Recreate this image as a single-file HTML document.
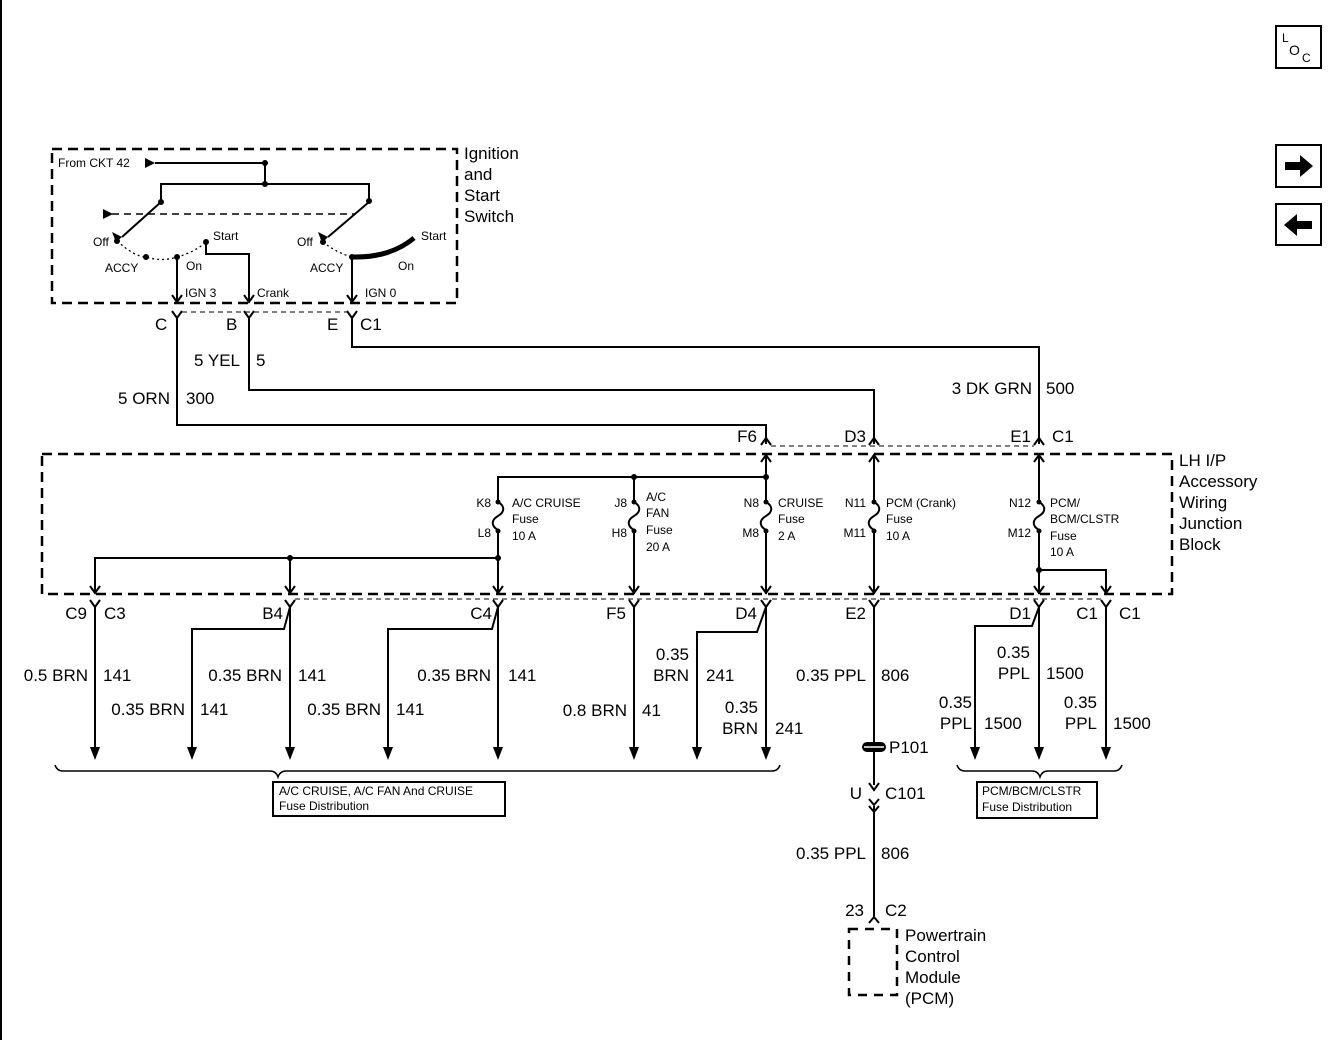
<!DOCTYPE html>
<html><head><meta charset="utf-8"><style>
html,body{margin:0;padding:0;background:#fff;}
svg{display:block;font-family:"Liberation Sans",Arial,sans-serif;}
</style></head><body>
<svg width="1344" height="1040" viewBox="0 0 1344 1040" xmlns="http://www.w3.org/2000/svg">
<rect width="1344" height="1040" fill="#fff"/>
<line x1="1" y1="0" x2="1" y2="1040" stroke="#000" stroke-width="2"/>

<!-- right icons -->
<g stroke="#000" stroke-width="2" fill="none">
<rect x="1276" y="26" width="45" height="42"/>
<rect x="1276" y="145" width="45" height="42"/>
<rect x="1276" y="204" width="45" height="41"/>
</g>
<text x="1282" y="42" font-size="12">L</text>
<text x="1289" y="55" font-size="14">O</text>
<text x="1302" y="62" font-size="12">C</text>
<polygon points="1285,162 1300,162 1300,155 1313,166 1300,177 1300,170 1285,170" fill="#000"/>
<polygon points="1312,221 1297,221 1297,214 1284,225 1297,236 1297,229 1312,229" fill="#000"/>

<g stroke="#000" fill="none">
<!-- ignition box -->
<rect x="52" y="149" width="405" height="154" stroke-width="2.5" stroke-dasharray="10,6"/>
<polyline points="155,163 265,163 265,184" stroke-width="2"/>
<polyline points="161,201 161,184 369,184 369,201" stroke-width="2"/>
<line x1="112" y1="214" x2="355" y2="214" stroke-width="1.5" stroke-dasharray="7,5"/>
<line x1="161" y1="202" x2="122" y2="237" stroke-width="2"/>
<line x1="369" y1="202" x2="328" y2="237" stroke-width="2"/>
<path d="M117,241 Q135,257 146,257 Q162,262 177,257 Q195,252 206,242" stroke-width="1.3" stroke-dasharray="2,3"/>
<path d="M323,242 Q337,253 352,257" stroke-width="1.3" stroke-dasharray="2,3"/>
<path d="M352,257 Q390,258 414,238" stroke-width="5"/>
<line x1="177" y1="257" x2="177" y2="302" stroke-width="2"/>
<polyline points="206,242 206,254 249,254 249,302" stroke-width="2"/>
<line x1="352" y1="257" x2="352" y2="302" stroke-width="2"/>
<polyline points="172,295 177,302 182,295" stroke-width="2"/>
<polyline points="244,295 249,302 254,295" stroke-width="2"/>
<polyline points="347,295 352,302 357,295" stroke-width="2"/>

<!-- C1 connector row top -->
<line x1="182" y1="312" x2="347" y2="312" stroke-width="1" stroke-dasharray="5,4"/>
<g stroke-width="2">
<polyline points="172,311 177,318 182,311"/><polyline points="244,311 249,318 254,311"/><polyline points="347,311 352,318 357,311"/>
</g>
<polyline points="177,318 177,425 766,425 766,444" stroke-width="2"/>
<polyline points="249,318 249,390 874,390 874,444" stroke-width="2"/>
<polyline points="352,318 352,347 1039,347 1039,444" stroke-width="2"/>
<!-- top junction connectors -->
<line x1="771" y1="446" x2="1034" y2="446" stroke-width="1" stroke-dasharray="5,4"/>
<g stroke-width="2">
<polyline points="761,445 766,438 771,445"/><polyline points="869,445 874,438 879,445"/><polyline points="1034,445 1039,438 1044,445"/>
</g>

<!-- junction block -->
<rect x="42" y="454" width="1130" height="140" stroke-width="2.5" stroke-dasharray="10,6"/>
<g stroke-width="2">
<polyline points="498,500 498,477 766,477"/>
<line x1="634" y1="477" x2="634" y2="500"/>
<line x1="766" y1="456" x2="766" y2="500"/>
<line x1="874" y1="456" x2="874" y2="500"/>
<line x1="1039" y1="456" x2="1039" y2="500"/>
<polyline points="761,462 766,455 771,462"/><polyline points="869,462 874,455 879,462"/><polyline points="1034,462 1039,455 1044,462"/>
<path d="M498,502 c7,4 7,10 0,14 c-7,4 -7,10 0,14"/>
<path d="M634,502 c7,4 7,10 0,14 c-7,4 -7,10 0,14"/>
<path d="M766,502 c7,4 7,10 0,14 c-7,4 -7,10 0,14"/>
<path d="M874,502 c7,4 7,10 0,14 c-7,4 -7,10 0,14"/>
<path d="M1039,502 c7,4 7,10 0,14 c-7,4 -7,10 0,14"/>
<line x1="498" y1="532" x2="498" y2="594"/>
<line x1="634" y1="532" x2="634" y2="594"/>
<line x1="766" y1="532" x2="766" y2="594"/>
<line x1="874" y1="532" x2="874" y2="594"/>
<line x1="1039" y1="532" x2="1039" y2="594"/>
<polyline points="95,592 95,558 498,558"/>
<line x1="290" y1="558" x2="290" y2="592"/>
<polyline points="1039,570 1106,570 1106,592"/>
<polyline points="90,586 95,593 100,586"/><polyline points="285,586 290,593 295,586"/><polyline points="493,586 498,593 503,586"/><polyline points="629,586 634,593 639,586"/><polyline points="761,586 766,593 771,586"/><polyline points="869,586 874,593 879,586"/><polyline points="1034,586 1039,593 1044,586"/><polyline points="1101,586 1106,593 1111,586"/>
</g>
<!-- bottom connector row -->
<line x1="295" y1="599" x2="1101" y2="599" stroke-width="1" stroke-dasharray="5,4"/>
<g stroke-width="2">
<polyline points="90,600 95,607 100,600"/><polyline points="285,600 290,607 295,600"/><polyline points="493,600 498,607 503,600"/><polyline points="629,600 634,607 639,600"/><polyline points="761,600 766,607 771,600"/><polyline points="869,600 874,607 879,600"/><polyline points="1034,600 1039,607 1044,600"/><polyline points="1101,600 1106,607 1111,600"/>
</g>
<g stroke-width="2">
<line x1="95" y1="607" x2="95" y2="748"/>
<line x1="290" y1="607" x2="290" y2="748"/>
<polyline points="290,607 284,629 192,629 192,748"/>
<line x1="498" y1="607" x2="498" y2="748"/>
<polyline points="498,607 492,629 388,629 388,748"/>
<line x1="634" y1="607" x2="634" y2="748"/>
<line x1="766" y1="607" x2="766" y2="748"/>
<polyline points="766,607 757,632 697,632 697,748"/>
<line x1="1039" y1="607" x2="1039" y2="748"/>
<polyline points="1039,607 1032,626 975,626 975,748"/>
<line x1="1106" y1="607" x2="1106" y2="748"/>
<line x1="874" y1="607" x2="874" y2="785"/>
<polyline points="869,783 874,790 879,783"/>
<polyline points="869,799 874,805 879,799"/>
<polyline points="869,806 874,812 879,806"/>
<line x1="874" y1="806" x2="874" y2="918"/>
<polyline points="869,923 874,917 879,923"/>
</g>
<!-- braces -->
<path d="M55,765 q2,6 8,6 L270,771 q6,0 8,6 q2,-6 8,-6 L772,771 q6,0 8,-6" stroke-width="1.5"/>
<path d="M957,765 q2,6 8,6 L1032,771 q6,0 8,6 q2,-6 8,-6 L1114,771 q6,0 8,-6" stroke-width="1.5"/>
<rect x="273" y="782" width="232" height="34" stroke-width="2"/>
<rect x="977" y="782" width="120" height="36" stroke-width="2"/>
<!-- PCM box -->
<rect x="849" y="929" width="48" height="66" stroke-width="2.5" stroke-dasharray="9,7"/>
</g>

<!-- filled arrowheads -->
<g fill="#000">
<polygon points="145,158 155,163 145,168"/>
<polygon points="103,209 113,214 103,219"/>
<polygon points="112,232 122,237 116,242"/>
<polygon points="318,232 328,237 322,243"/>
<polygon points="90,747 100,747 95,760"/><polygon points="187,747 197,747 192,760"/><polygon points="285,747 295,747 290,760"/><polygon points="383,747 393,747 388,760"/><polygon points="493,747 503,747 498,760"/><polygon points="629,747 639,747 634,760"/><polygon points="692,747 702,747 697,760"/><polygon points="761,747 771,747 766,760"/><polygon points="970,747 980,747 975,760"/><polygon points="1034,747 1044,747 1039,760"/><polygon points="1101,747 1111,747 1106,760"/>
<rect x="862" y="742" width="24" height="10" rx="5"/>
<circle cx="265" cy="163" r="3"/><circle cx="265" cy="184" r="3"/><circle cx="161" cy="202" r="3"/><circle cx="369" cy="201" r="3"/>
<circle cx="117" cy="241" r="3"/><circle cx="146" cy="257" r="3"/><circle cx="177" cy="257" r="3"/><circle cx="206" cy="242" r="3"/><circle cx="323" cy="242" r="3"/><circle cx="352" cy="257" r="3"/>
<circle cx="634" cy="477" r="3"/><circle cx="766" cy="477" r="3"/><circle cx="498" cy="558" r="3"/><circle cx="290" cy="558" r="3"/><circle cx="1039" cy="570" r="3"/>
<circle cx="498" cy="502" r="2.5"/><circle cx="498" cy="531" r="2.5"/><circle cx="634" cy="502" r="2.5"/><circle cx="634" cy="531" r="2.5"/><circle cx="766" cy="502" r="2.5"/><circle cx="766" cy="531" r="2.5"/><circle cx="874" cy="502" r="2.5"/><circle cx="874" cy="531" r="2.5"/><circle cx="1039" cy="502" r="2.5"/><circle cx="1039" cy="531" r="2.5"/>
</g>
<line x1="864" y1="747" x2="884" y2="747" stroke="#fff" stroke-width="1.5"/>

<!-- text -->
<g fill="#000">
<text x="58" y="167" font-size="12">From CKT 42</text>
<text x="93" y="246" font-size="12">Off</text><text x="105" y="272" font-size="12">ACCY</text><text x="186" y="270" font-size="12">On</text><text x="213" y="240" font-size="12">Start</text>
<text x="297" y="246" font-size="12">Off</text><text x="310" y="272" font-size="12">ACCY</text><text x="398" y="270" font-size="12">On</text><text x="421" y="240" font-size="12">Start</text>
<text x="185" y="297" font-size="12">IGN 3</text><text x="257" y="297" font-size="12">Crank</text><text x="365" y="297" font-size="12">IGN 0</text>
<g font-size="17">
<text x="464" y="159">Ignition</text><text x="464" y="180">and</text><text x="464" y="201">Start</text><text x="464" y="222">Switch</text>
<text x="155" y="330">C</text><text x="226" y="330">B</text><text x="327" y="330">E</text><text x="360" y="330">C1</text>
<text x="240" y="366" text-anchor="end">5 YEL</text><text x="256" y="366">5</text>
<text x="170" y="404" text-anchor="end">5 ORN</text><text x="186" y="404">300</text>
<text x="1032" y="394" text-anchor="end">3 DK GRN</text><text x="1046" y="394">500</text>
<text x="757" y="442" text-anchor="end">F6</text><text x="866" y="442" text-anchor="end">D3</text><text x="1031" y="442" text-anchor="end">E1</text><text x="1052" y="442">C1</text>
<text x="1179" y="466">LH I/P</text><text x="1179" y="487">Accessory</text><text x="1179" y="508">Wiring</text><text x="1179" y="529">Junction</text><text x="1179" y="550">Block</text>
<text x="87" y="619" text-anchor="end">C9</text><text x="104" y="619">C3</text>
<text x="283" y="619" text-anchor="end">B4</text><text x="492" y="619" text-anchor="end">C4</text><text x="626" y="619" text-anchor="end">F5</text><text x="757" y="619" text-anchor="end">D4</text><text x="866" y="619" text-anchor="end">E2</text><text x="1031" y="619" text-anchor="end">D1</text><text x="1098" y="619" text-anchor="end">C1</text><text x="1119" y="619">C1</text>
<text x="88" y="681" text-anchor="end">0.5 BRN</text><text x="103" y="681">141</text>
<text x="185" y="715" text-anchor="end">0.35 BRN</text><text x="200" y="715">141</text>
<text x="282" y="681" text-anchor="end">0.35 BRN</text><text x="298" y="681">141</text>
<text x="381" y="715" text-anchor="end">0.35 BRN</text><text x="396" y="715">141</text>
<text x="491" y="681" text-anchor="end">0.35 BRN</text><text x="508" y="681">141</text>
<text x="627" y="716" text-anchor="end">0.8 BRN</text><text x="642" y="716">41</text>
<text x="689" y="660" text-anchor="end">0.35</text><text x="689" y="681" text-anchor="end">BRN</text><text x="706" y="681">241</text>
<text x="758" y="713" text-anchor="end">0.35</text><text x="758" y="734" text-anchor="end">BRN</text><text x="775" y="734">241</text>
<text x="866" y="681" text-anchor="end">0.35 PPL</text><text x="881" y="681">806</text>
<text x="889" y="753">P101</text>
<text x="862" y="799" text-anchor="end">U</text><text x="885" y="799">C101</text>
<text x="866" y="859" text-anchor="end">0.35 PPL</text><text x="881" y="859">806</text>
<text x="864" y="916" text-anchor="end">23</text><text x="885" y="916">C2</text>
<text x="905" y="941">Powertrain</text><text x="905" y="962">Control</text><text x="905" y="983">Module</text><text x="905" y="1004">(PCM)</text>
<text x="1030" y="658" text-anchor="end">0.35</text><text x="1030" y="679" text-anchor="end">PPL</text><text x="1046" y="679">1500</text>
<text x="972" y="708" text-anchor="end">0.35</text><text x="972" y="729" text-anchor="end">PPL</text><text x="984" y="729">1500</text>
<text x="1097" y="708" text-anchor="end">0.35</text><text x="1097" y="729" text-anchor="end">PPL</text><text x="1113" y="729">1500</text>
</g>
<g font-size="12">
<text x="491" y="507" text-anchor="end">K8</text><text x="491" y="537" text-anchor="end">L8</text>
<text x="512" y="507">A/C CRUISE</text><text x="512" y="523">Fuse</text><text x="512" y="540">10 A</text>
<text x="627" y="507" text-anchor="end">J8</text><text x="627" y="537" text-anchor="end">H8</text>
<text x="646" y="501">A/C</text><text x="646" y="517">FAN</text><text x="646" y="534">Fuse</text><text x="646" y="551">20 A</text>
<text x="759" y="507" text-anchor="end">N8</text><text x="759" y="537" text-anchor="end">M8</text>
<text x="778" y="507">CRUISE</text><text x="778" y="523">Fuse</text><text x="778" y="540">2 A</text>
<text x="866" y="507" text-anchor="end">N11</text><text x="866" y="537" text-anchor="end">M11</text>
<text x="886" y="507">PCM (Crank)</text><text x="886" y="523">Fuse</text><text x="886" y="540">10 A</text>
<text x="1031" y="507" text-anchor="end">N12</text><text x="1031" y="537" text-anchor="end">M12</text>
<text x="1050" y="507">PCM/</text><text x="1050" y="523">BCM/CLSTR</text><text x="1050" y="540">Fuse</text><text x="1050" y="556">10 A</text>
<text x="279" y="795">A/C CRUISE, A/C FAN And CRUISE</text><text x="279" y="810">Fuse Distribution</text>
<text x="982" y="795">PCM/BCM/CLSTR</text><text x="982" y="811">Fuse Distribution</text>
</g>
</g>
</svg>
</body></html>
